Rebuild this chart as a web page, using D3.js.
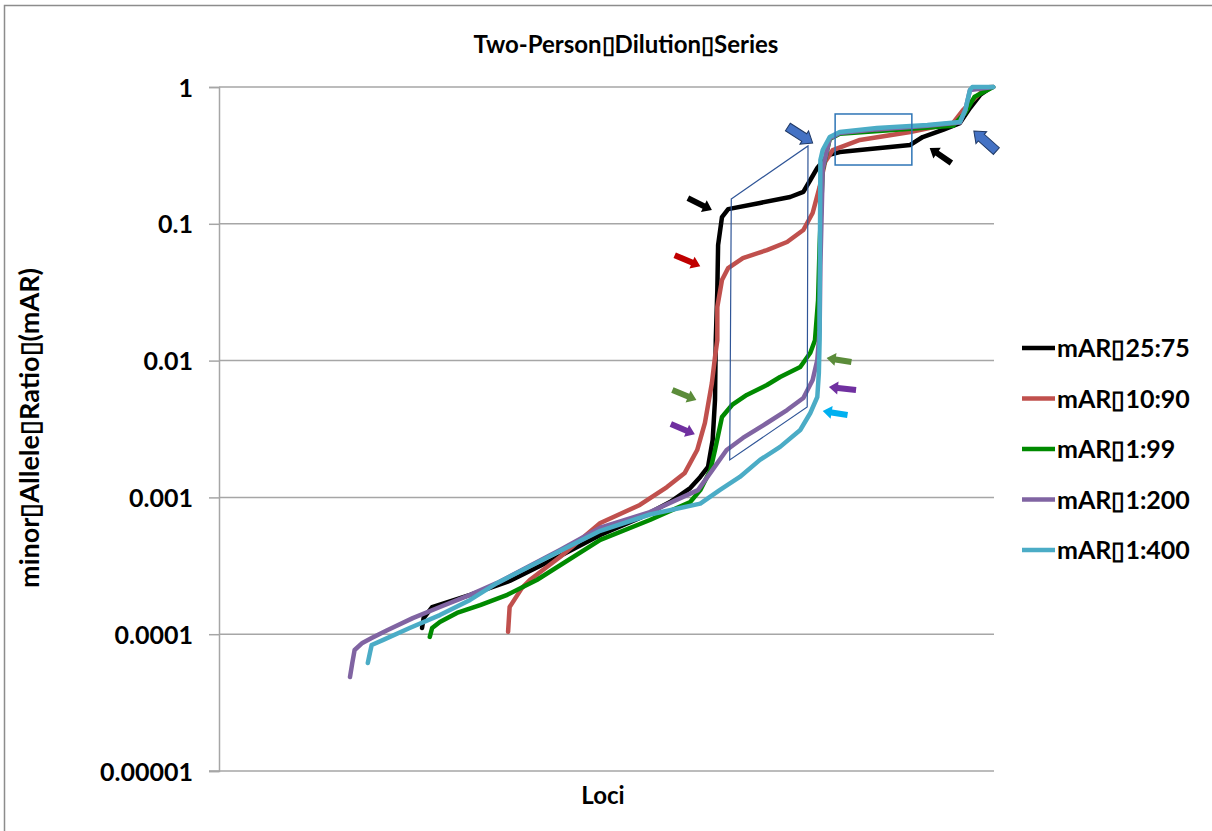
<!DOCTYPE html>
<html>
<head>
<meta charset="utf-8">
<script src="https://cdn.jsdelivr.net/npm/d3@7"></script>
<style>
  html, body { margin: 0; background: #fff; overflow: hidden; }
  svg { display: block; }
  text { font-family: Lato, "Open Sans", sans-serif; font-weight: bold; fill: #000; }
</style>
</head>
<body>
<svg></svg>
<script>
// series: [locus rank, minor allele ratio]
var mar2575 = [[262,0.000111],[264,0.000131],[275,0.000158],[324,0.000194],[375,0.000245],[440,0.000373],
  [492,0.000531],[543,0.000707],[582,0.000925],[608,0.00117],[621,0.00141],[631,0.00167],[637,0.00263],
  [640,0.00516],[641,0.0141],[643,0.0328],[644,0.070],[649,0.112],[657,0.128],[698,0.142],[737,0.157],
  [754,0.171],[763,0.209],[772,0.256],[786,0.318],[801,0.335],[853,0.358],[892,0.377],[908,0.431],
  [934,0.485],[956,0.545],[969,0.702],[982,0.874],[997,1]];
var mar1090 = [[373,0.000104],[375,0.000158],[391,0.000218],[401,0.000249],[440,0.000367],[492,0.00065],
  [543,0.00088],[578,0.00119],[601,0.00151],[617,0.00222],[627,0.0035],[636,0.00686],[640,0.0106],
  [643,0.0141],[643,0.0247],[649,0.0388],[657,0.0475],[676,0.0562],[707,0.0643],[733,0.0736],[754,0.0901],
  [766,0.120],[775,0.186],[782,0.283],[792,0.346],[827,0.410],[892,0.469],[947,0.545],[960,0.679],
  [982,0.90],[995,1]];
var mar199 = [[272,0.0000955],[275,0.000111],[285,0.000123],[307,0.000143],[337,0.000163],[372,0.000194],
  [410,0.000249],[492,0.000489],[556,0.000684],[608,0.000925],[621,0.00113],[634,0.00158],[640,0.00222],
  [649,0.00387],[662,0.00474],[681,0.00561],[707,0.00663],[724,0.00759],[750,0.00897],[763,0.0114],
  [769,0.0141],[773,0.0277],[775,0.07],[779,0.247],[788,0.417],[801,0.455],[879,0.49],[947,0.52],
  [963,0.65],[975,0.85],[999,1]];
var mar1200 = [[169,0.0000486],[172,0.0000616],[175,0.0000767],[185,0.0000863],[197,0.0000938],[217,0.000107],
  [250,0.000131],[285,0.000158],[324,0.000194],[359,0.000237],[440,0.000413],[492,0.0006],[556,0.000781],
  [618,0.00113],[634,0.00151],[655,0.00222],[676,0.00272],[707,0.0035],[733,0.00435],[754,0.00533],
  [766,0.00721],[772,0.0101],[775,0.0167],[776,0.05],[779,0.25],[788,0.42],[801,0.46],[849,0.49],
  [914,0.52],[956,0.55],[963,0.68],[969,0.95],[999,1]];
var mar1400 = [[192,0.0000616],[195,0.0000741],[197,0.0000834],[212,0.0000908],[246,0.000111],[285,0.000138],
  [324,0.000178],[359,0.000237],[440,0.000406],[492,0.00057],[556,0.00075],[621,0.0009],[646,0.00113],
  [672,0.00141],[698,0.00188],[724,0.00234],[750,0.00311],[763,0.00414],[772,0.00542],[774,0.00811],
  [775,0.0141],[775,0.0247],[776,0.293],[779,0.346],[788,0.431],[801,0.469],[849,0.501],[914,0.527],
  [956,0.555],[963,0.679],[969,0.95],[972,1],[999,1]];

var seriesNames = ["mAR\u25AF25:75", "mAR\u25AF10:90", "mAR\u25AF1:99", "mAR\u25AF1:200", "mAR\u25AF1:400"];
var seriesData = [mar2575, mar1090, mar199, mar1200, mar1400];
var seriesColors = ["#000000", "#c0504d", "#008a00", "#8064a2", "#4bacc6"];
var yTicks = [1, 0.1, 0.01, 0.001, 0.0001, 0.00001];
var yTickLabels = ["1", "0.1", "0.01", "0.001", "0.0001", "0.00001"];

// annotation arrows: tail -> head, in [locus, ratio]
var arrows = [
  {from: [605, 0.154], to: [636, 0.126], color: "#000000"},
  {from: [588, 0.059], to: [621, 0.049], color: "#c00000"},
  {from: [734, 0.51], to: [766, 0.39], color: "#4472c4", outline: true},
  {from: [945, 0.278], to: [917, 0.358], color: "#000000"},
  {from: [1003, 0.34], to: [974, 0.477], color: "#4472c4", outline: true},
  {from: [585, 0.0061], to: [616, 0.00516], color: "#5b8c3a"},
  {from: [583, 0.00344], to: [614, 0.0029], color: "#7030a0"},
  {from: [816, 0.00977], to: [784, 0.01045], color: "#5b8c3a"},
  {from: [822, 0.0061], to: [787, 0.00641], color: "#7030a0"},
  {from: [811, 0.0040], to: [779, 0.00428], color: "#00b0f0"}
];
var parallelogram = [[661, 0.152], [760, 0.371], [759, 0.00458], [659, 0.00188]];
var boxCorners = [[795, 0.635], [894, 0.269]];

var width = 1212, height = 831;
var svg = d3.select("svg").attr("width", width).attr("height", height);

// outer frame
svg.append("rect").attr("x", 4.5).attr("y", 5.5).attr("width", 1220).attr("height", 840)
  .attr("fill", "none").attr("stroke", "#8c8c8c").attr("stroke-width", 1.5);

var x = d3.scaleLinear().domain([0, 1000]).range([219, 994]);
var y = d3.scaleLog().domain([0.00001, 1]).range([771, 87]);

// gridlines
svg.append("g").selectAll("line").data(yTicks.slice(0, 5)).enter().append("line")
  .attr("x1", 219).attr("x2", 994)
  .attr("y1", d => y(d)).attr("y2", d => y(d))
  .attr("stroke", "#a6a6a6").attr("stroke-width", 1.5);

// y axis
var yAxis = d3.axisLeft(y).tickValues(yTicks).tickSize(10)
  .tickFormat((d, i) => yTickLabels[i]);
var gy = svg.append("g").attr("transform", "translate(219,0)").call(yAxis);
gy.select(".domain").attr("stroke", "#a6a6a6").attr("stroke-width", 1.5);
gy.selectAll(".tick line").attr("stroke", "#a6a6a6").attr("stroke-width", 1.5);
gy.selectAll(".tick text").attr("x", -26).attr("dy", "0.36em")
  .style("font-size", "25px").style("font-family", "Lato, sans-serif").style("font-weight", "bold");

// x axis line
svg.append("line").attr("x1", 209).attr("x2", 994).attr("y1", y(0.00001)).attr("y2", y(0.00001))
  .attr("stroke", "#a6a6a6").attr("stroke-width", 1.5);

// series lines
var line = d3.line().x(d => x(d[0])).y(d => y(d[1]));
svg.append("g").selectAll("path").data(seriesData).enter().append("path")
  .attr("d", line)
  .attr("fill", "none")
  .attr("stroke", (d, i) => seriesColors[i])
  .attr("stroke-width", 4.5)
  .attr("stroke-linejoin", "round")
  .attr("stroke-linecap", "round");

// parallelogram and box
svg.append("path")
  .attr("d", d3.line().x(d => x(d[0])).y(d => y(d[1])).curve(d3.curveLinearClosed)(parallelogram))
  .attr("fill", "none").attr("stroke", "#2f5597").attr("stroke-width", 1.2);
svg.append("rect")
  .attr("x", x(boxCorners[0][0])).attr("y", y(boxCorners[0][1]))
  .attr("width", x(boxCorners[1][0]) - x(boxCorners[0][0]))
  .attr("height", y(boxCorners[1][1]) - y(boxCorners[0][1]))
  .attr("fill", "none").attr("stroke", "#2e75b6").attr("stroke-width", 1.5);

// block arrows
arrows.forEach(function(a) {
  var x0 = x(a.from[0]), y0 = y(a.from[1]), x1 = x(a.to[0]), y1 = y(a.to[1]);
  var len = Math.hypot(x1 - x0, y1 - y0);
  var ang = Math.atan2(y1 - y0, x1 - x0) * 180 / Math.PI;
  var sw = a.outline ? 4.5 : 3, hw = a.outline ? 8 : 6.5, hl = a.outline ? 10 : 9;
  var pts = [[0, -sw], [len - hl, -sw], [len - hl, -hw], [len, 0], [len - hl, hw], [len - hl, sw], [0, sw]];
  svg.append("polygon")
    .attr("points", pts.map(p => p.join(",")).join(" "))
    .attr("transform", "translate(" + x0 + "," + y0 + ") rotate(" + ang + ")")
    .attr("fill", a.color)
    .attr("stroke", a.outline ? "#1f3864" : "none")
    .attr("stroke-width", 1);
});

// legend
var legend = svg.append("g").selectAll("g").data(seriesNames).enter().append("g")
  .attr("transform", (d, i) => "translate(1022," + (348 + i * 50.5) + ")");
legend.append("line").attr("x1", 0).attr("x2", 33)
  .attr("stroke", (d, i) => seriesColors[i]).attr("stroke-width", 4.5);
legend.append("text").attr("x", 35).attr("dy", "0.36em")
  .style("font-size", "25px").text(d => d);

// titles
svg.append("text").attr("x", 626).attr("y", 53).attr("text-anchor", "middle")
  .style("font-size", "24px").text("Two-Person\u25AFDilution\u25AFSeries");
svg.append("text").attr("x", 603).attr("y", 804).attr("text-anchor", "middle")
  .style("font-size", "24px").text("Loci");
svg.append("text").attr("transform", "translate(39,428) rotate(-90)").attr("text-anchor", "middle")
  .style("font-size", "27px").text("minor\u25AFAllele\u25AFRatio\u25AF(mAR)");
</script>
</body>
</html>
